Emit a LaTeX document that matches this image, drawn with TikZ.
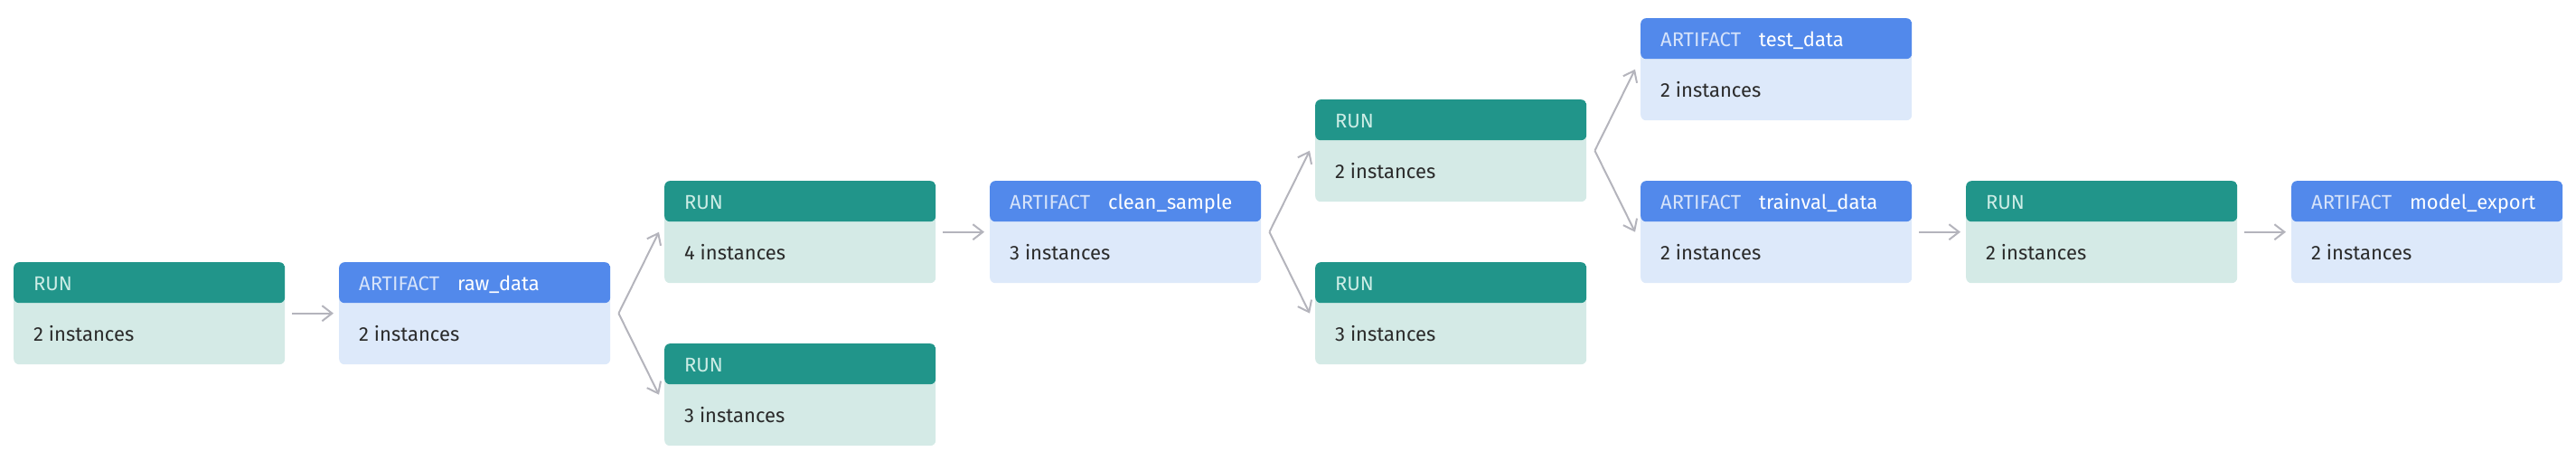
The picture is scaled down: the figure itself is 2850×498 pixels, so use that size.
\documentclass[tikz,border=0pt]{standalone}
\usepackage{fontspec}
\setmainfont{Fira Sans}
\usetikzlibrary{arrows.meta}
\definecolor{runhead}{HTML}{21958A}
\definecolor{runbody}{HTML}{D4EAE6}
\definecolor{arthead}{HTML}{5289EB}
\definecolor{artbody}{HTML}{DDE9FA}
\definecolor{runlbl}{HTML}{CDEDE6}
\definecolor{artlbl}{HTML}{D6E3FA}
\definecolor{bodytxt}{HTML}{2A2A2A}
\definecolor{conngray}{HTML}{B4B4BC}
\begin{document}
\begin{tikzpicture}[x=1pt,y=-1pt,
  boxbase/.style={rectangle, rounded corners=6pt, minimum width=300pt, minimum height=113pt, inner sep=0pt, anchor=north west},
  runbox/.style={boxbase, fill=runbody, path picture={\fill[runhead] (path picture bounding box.north west) rectangle ([yshift=-45pt]path picture bounding box.north east);}},
  artbox/.style={boxbase, fill=artbody, path picture={\fill[arthead] (path picture bounding box.north west) rectangle ([yshift=-45pt]path picture bounding box.north east);}},
  lbl/.style={anchor=base west, inner sep=0pt, font=\fontsize{22}{26}\selectfont},
  conn/.style={draw=conngray, line width=2pt, -{Straight Barb[length=11pt,width=17pt,line width=2pt]}}
]
\useasboundingbox (0,0) rectangle (2850,498);

\newcommand\mkrun[4]{%
  \node[runbox] (#1) at (#2,#3) {};
  \node[lbl, text=runlbl] (#1-h) at ([xshift=22pt,yshift=-31.5pt]#1.north west) {RUN};
  \node[lbl, text=bodytxt] (#1-b) at ([xshift=22pt,yshift=-87.5pt]#1.north west) {#4};}
\newcommand\mkart[5]{%
  \node[artbox] (#1) at (#2,#3) {};
  \node[lbl] (#1-h) at ([xshift=22pt,yshift=-31.5pt]#1.north west) {\textcolor{artlbl}{ARTIFACT}\hspace{20pt}\textcolor{white}{#4}};
  \node[lbl, text=bodytxt] (#1-b) at ([xshift=22pt,yshift=-87.5pt]#1.north west) {#5};}

\mkrun{ra}{15}{290}{2 instances}
\mkart{raw}{375}{290}{raw\_data}{2 instances}
\mkrun{rb}{735}{200}{4 instances}
\mkrun{rc}{735}{380}{3 instances}
\mkart{clean}{1095}{200}{clean\_sample}{3 instances}
\mkrun{rd}{1455}{110}{2 instances}
\mkrun{re}{1455}{290}{3 instances}
\mkart{test}{1815}{20}{test\_data}{2 instances}
\mkart{trainval}{1815}{200}{trainval\_data}{2 instances}
\mkrun{rf}{2175}{200}{2 instances}
\mkart{model}{2535}{200}{model\_export}{2 instances}

\draw[conn] ([xshift=8pt]ra.east) -- ([xshift=-6pt]raw.west);
\draw[conn] ([xshift=9pt]raw.east) -- ([xshift=-6pt]rb.west);
\draw[conn] ([xshift=9pt]raw.east) -- ([xshift=-6pt]rc.west);
\draw[conn] ([xshift=8pt]rb.east) -- ([xshift=-6pt]clean.west);
\draw[conn] ([xshift=9pt]clean.east) -- ([xshift=-6pt]rd.west);
\draw[conn] ([xshift=9pt]clean.east) -- ([xshift=-6pt]re.west);
\draw[conn] ([xshift=9pt]rd.east) -- ([xshift=-6pt]test.west);
\draw[conn] ([xshift=9pt]rd.east) -- ([xshift=-6pt]trainval.west);
\draw[conn] ([xshift=8pt]trainval.east) -- ([xshift=-6pt]rf.west);
\draw[conn] ([xshift=8pt]rf.east) -- ([xshift=-6pt]model.west);
\end{tikzpicture}
\end{document}
